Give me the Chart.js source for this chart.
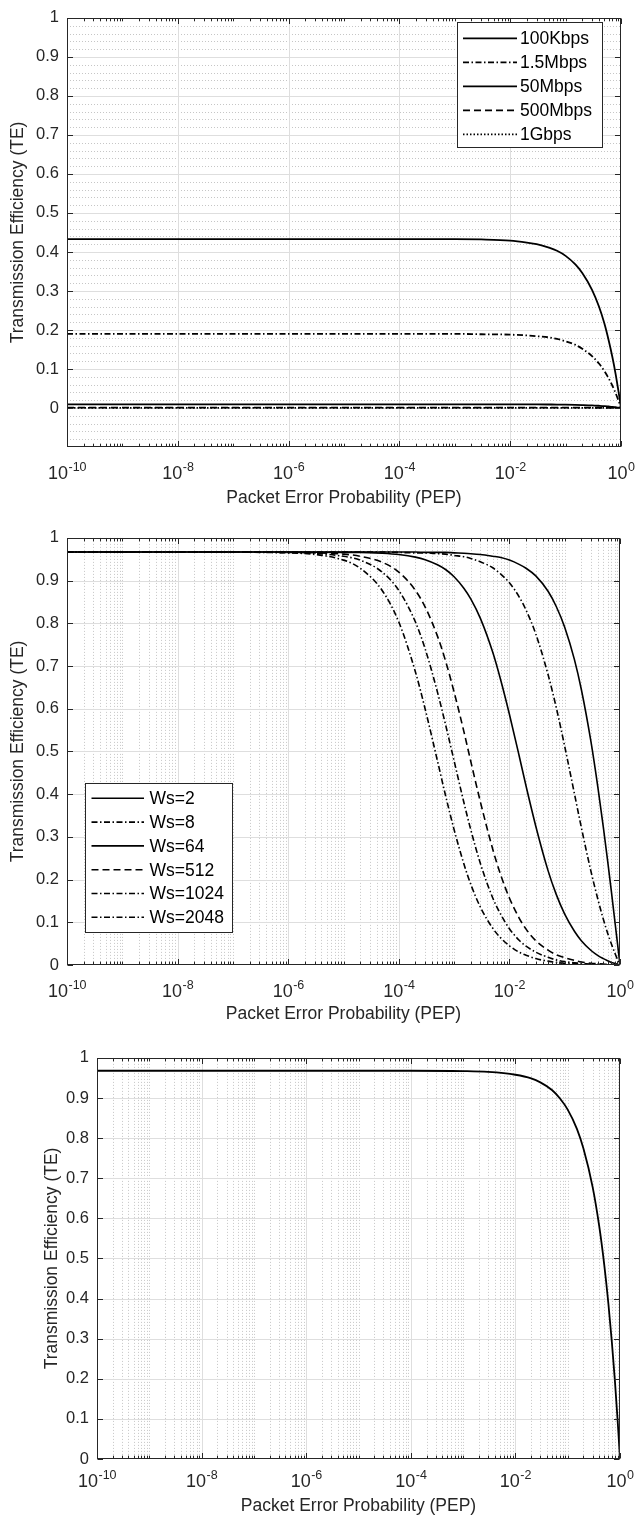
<!DOCTYPE html>
<html>
<head>
<meta charset="utf-8">
<script src="https://cdn.jsdelivr.net/npm/chart.js@4.4.1/dist/chart.umd.min.js"></script>
<style>
html,body{margin:0;padding:0;background:#fff;}
body{width:635px;height:1517px;position:relative;overflow:hidden;}
canvas{position:absolute;left:0;display:block;}
</style>
</head>
<body>
<canvas id="c1" width="635" height="520" style="top:0px"></canvas>
<canvas id="c2" width="635" height="520" style="top:520px"></canvas>
<canvas id="c3" width="635" height="477" style="top:1040px"></canvas>
<script>
// ---------------- DATA ----------------
const xTickValues = [1e-10, 1e-8, 1e-6, 1e-4, 1e-2, 1];
const xTickExponents = ['-10', '-8', '-6', '-4', '-2', '0'];
const xTitle = 'Packet Error Probability (PEP)';
const yTitle = 'Transmission Efficiency (TE)';

// Figure 1: link rates
const pep1 = [1e-10,1e-8,1e-6,1e-4,1e-3,3e-3,0.01,0.02,0.03,0.05,0.07,0.1,0.15,0.2,0.3,0.4,0.5,0.6,0.7,0.8,0.9,0.95,1];
const rateLabels = ['100Kbps','1.5Mbps','50Mbps','500Mbps','1Gbps'];
const te100Kbps = [0.433,0.433,0.433,0.433,0.433,0.432,0.429,0.424,0.420,0.411,0.403,0.390,0.368,0.346,0.303,0.260,0.217,0.173,0.130,0.087,0.043,0.022,0];
const te1_5Mbps = [0.190,0.190,0.190,0.190,0.190,0.189,0.188,0.186,0.184,0.181,0.177,0.171,0.162,0.152,0.133,0.114,0.095,0.076,0.057,0.038,0.019,0.010,0];
const te50Mbps = [0.0095,0.0095,0.0095,0.0095,0.0095,0.0095,0.0094,0.0093,0.0092,0.0090,0.0088,0.0086,0.0081,0.0076,0.0067,0.0057,0.0048,0.0038,0.0029,0.0019,0.0010,0.0005,0];
const te500Mbps = [0.001,0.001,0.001,0.001,0.001,0.001,0.001,0.001,0.001,0.001,0.0009,0.0009,0.00085,0.0008,0.0007,0.0006,0.0005,0.0004,0.0003,0.0002,0.0001,0.00005,0];
const te1Gbps = [0.0005,0.0005,0.0005,0.0005,0.0005,0.0005,0.0005,0.0005,0.0005,0.0005,0.00047,0.00045,0.00043,0.0004,0.00035,0.0003,0.00025,0.0002,0.00015,0.0001,0.00005,0.00003,0];

// Figure 2: window sizes
const pep2 = [1e-10,1e-8,1e-6,1e-5,2e-5,5e-5,1e-4,2e-4,3e-4,5e-4,7e-4,1e-3,1.5e-3,2e-3,3e-3,5e-3,7e-3,0.01,0.015,0.02,0.03,0.05,0.07,0.1,0.15,0.2,0.3,0.4,0.5,0.6,0.7,0.8,0.9,0.95,1];
const wsLabels = ['Ws=2','Ws=8','Ws=64','Ws=512','Ws=1024','Ws=2048'];
const teWs2 = [0.967,0.967,0.967,0.967,0.967,0.967,0.967,0.967,0.966,0.966,0.966,0.965,0.964,0.963,0.961,0.957,0.954,0.948,0.938,0.929,0.911,0.875,0.840,0.791,0.715,0.645,0.521,0.414,0.322,0.242,0.171,0.107,0.051,0.025,0];
const teWs8 = [0.967,0.967,0.967,0.967,0.967,0.967,0.966,0.965,0.965,0.963,0.962,0.959,0.956,0.952,0.944,0.930,0.915,0.895,0.862,0.831,0.775,0.680,0.604,0.512,0.401,0.322,0.218,0.153,0.107,0.074,0.049,0.029,0.013,0.006,0];
const teWs64 = [0.967,0.967,0.967,0.966,0.966,0.964,0.961,0.955,0.949,0.937,0.926,0.909,0.882,0.857,0.811,0.732,0.666,0.587,0.490,0.419,0.325,0.221,0.166,0.119,0.079,0.057,0.034,0.022,0.015,0.010,0.006,0.004,0.002,0.001,0];
const teWs512 = [0.967,0.967,0.966,0.962,0.957,0.943,0.920,0.877,0.838,0.770,0.712,0.639,0.547,0.477,0.381,0.271,0.210,0.157,0.110,0.084,0.057,0.035,0.024,0.017,0.011,0.007,0.004,0.003,0.002,0.001,0.001,0,0,0,0];
const teWs1024 = [0.967,0.967,0.966,0.957,0.948,0.920,0.877,0.803,0.740,0.639,0.563,0.478,0.381,0.317,0.237,0.157,0.118,0.085,0.058,0.044,0.030,0.018,0.012,0.008,0.005,0.004,0.002,0.001,0.001,0.001,0,0,0,0,0];
const teWs2048 = [0.967,0.967,0.965,0.948,0.929,0.877,0.803,0.686,0.599,0.478,0.397,0.317,0.237,0.189,0.135,0.086,0.063,0.045,0.030,0.023,0.015,0.009,0.006,0.004,0.003,0.002,0.001,0.001,0,0,0,0,0,0,0];

// Figure 3: single curve
const pep3 = [1e-10,1e-8,1e-6,1e-4,1e-3,3e-3,0.01,0.02,0.03,0.05,0.07,0.1,0.15,0.2,0.3,0.4,0.5,0.6,0.7,0.8,0.9,0.95,1];
const te3 = [0.968,0.968,0.968,0.968,0.967,0.965,0.958,0.949,0.939,0.920,0.900,0.871,0.823,0.774,0.678,0.581,0.484,0.387,0.290,0.194,0.097,0.048,0];

// ---------------- STYLE ----------------
const FF = '"Liberation Sans", Arial, Helvetica, sans-serif';
const AX = '#262626';
const SOLID = [], DASH = [7, 4], DASHDOT = [6, 2.5, 1.5, 2.5], DOT = [1.5, 2];

function pts(xs, ys) { return xs.map((v, i) => ({x: v, y: ys[i]})); }

function line(ctx, x0, y0, x1, y1) { ctx.beginPath(); ctx.moveTo(x0, y0); ctx.lineTo(x1, y1); ctx.stroke(); }

const matlabAxes = {
  id: 'matlabAxes',
  beforeDatasetsDraw(chart, args, o) {
    const {ctx, chartArea: a, scales: {x, y}} = chart;
    ctx.save();
    ctx.lineWidth = 1;
    ctx.strokeStyle = '#c6c6c6';
    ctx.setLineDash([1, 2]);
    if (o.minorX) {
      for (let k = -10; k < 0; k++) {
        for (let m = 1; m <= 9; m++) {
          if (m === 1 && k % 2 === 0) continue;
          const px = Math.round(x.getPixelForValue(m * Math.pow(10, k))) + 0.5;
          line(ctx, px, a.top, px, a.bottom);
        }
      }
    }
    if (o.minorY) {
      for (let i = Math.round(y.min * 50); i <= 50; i++) {
        if (i % 5 === 0) continue;
        const py = Math.round(y.getPixelForValue(i / 50)) + 0.5;
        line(ctx, a.left, py, a.right, py);
      }
    }
    ctx.setLineDash([]);
    ctx.strokeStyle = '#dedede';
    xTickValues.forEach(v => {
      if (v <= 1e-10 || v >= 1) return;
      const px = Math.round(x.getPixelForValue(v)) + 0.5;
      line(ctx, px, a.top, px, a.bottom);
    });
    for (let i = Math.round(y.min * 10) + 1; i < 10; i++) {
      const py = Math.round(y.getPixelForValue(i / 10)) + 0.5;
      line(ctx, a.left, py, a.right, py);
    }
    ctx.restore();
  },
  afterDatasetsDraw(chart, args, o) {
    const {ctx, chartArea: a, scales: {x, y}} = chart;
    ctx.save();
    ctx.strokeStyle = AX;
    ctx.lineWidth = 1;
    ctx.setLineDash([]);
    const L = Math.round(a.left) + 0.5, R = Math.round(a.right) - 0.5;
    const T = Math.round(a.top) + 0.5, B = Math.round(a.bottom) - 0.5;
    // x ticks (inward, top and bottom)
    for (let k = -10; k <= 0; k++) {
      for (let m = 1; m <= 9; m++) {
        if (k === 0 && m > 1) break;
        const v = m * Math.pow(10, k);
        const major = (m === 1 && k % 2 === 0);
        const len = major ? 5.5 : 2.8;
        const px = Math.round(x.getPixelForValue(v)) + 0.5;
        line(ctx, px, B, px, B - len);
        line(ctx, px, T, px, T + len);
      }
    }
    // y ticks
    for (let i = 0; i <= 10; i++) {
      const py = Math.round(y.getPixelForValue(i / 10)) + 0.5;
      line(ctx, L, py, L + 5.5, py);
      line(ctx, R, py, R - 5.5, py);
    }
    // box
    ctx.strokeRect(L, T, R - L, B - T);
    // x tick labels 10^n
    ctx.fillStyle = AX;
    ctx.textAlign = 'left';
    ctx.textBaseline = 'alphabetic';
    xTickValues.forEach((v, i) => {
      const px = x.getPixelForValue(v);
      const exp = xTickExponents[i];
      ctx.font = '18px ' + FF;
      const wb = ctx.measureText('10').width;
      ctx.font = '12.5px ' + FF;
      const ws = ctx.measureText(exp).width;
      const x0 = px - (wb + ws) / 2;
      ctx.font = '18px ' + FF;
      ctx.fillText('10', x0, o.labelBase);
      ctx.font = '12.5px ' + FF;
      ctx.fillText(exp, x0 + wb + 0.5, o.labelBase - 8.5);
    });
    // legend
    if (o.legend) {
      const lg = o.legend;
      ctx.fillStyle = '#ffffff';
      ctx.fillRect(lg.x, lg.y, lg.w, lg.h);
      ctx.strokeStyle = AX;
      ctx.lineWidth = 1;
      ctx.strokeRect(Math.round(lg.x) + 0.5, Math.round(lg.y) + 0.5, Math.round(lg.w), Math.round(lg.h));
      chart.data.datasets.forEach((ds, i) => {
        const yy = lg.row0 + lg.rowH * i;
        ctx.strokeStyle = '#000';
        ctx.lineWidth = ds.borderWidth;
        ctx.setLineDash(ds.borderDash || []);
        line(ctx, lg.s0, yy, lg.s1, yy);
        ctx.setLineDash([]);
        ctx.fillStyle = '#000';
        ctx.font = '17.5px ' + FF;
        ctx.textBaseline = 'middle';
        ctx.fillText(ds.label, lg.tx, yy + 1);
      });
    }
    ctx.restore();
  }
};

function makeChart(id, cfg) {
  const H = cfg.H, A = cfg.area;
  const lh = 17.5 * 1.2;
  const datasets = cfg.series.map(s => ({
    label: s.label,
    data: pts(cfg.pep, s.data),
    borderColor: '#000',
    borderWidth: cfg.lw,
    borderDash: s.dash,
    pointRadius: 0,
    fill: false,
    cubicInterpolationMode: 'monotone'
  }));
  return new Chart(document.getElementById(id), {
    type: 'line',
    data: {datasets},
    plugins: [matlabAxes],
    options: {
      responsive: false,
      animation: false,
      devicePixelRatio: 1,
      layout: {padding: {left: 0, right: 635 - A.r, top: A.t, bottom: 0}},
      plugins: {
        legend: {display: false},
        tooltip: {enabled: false},
        matlabAxes: {minorX: cfg.minorX, minorY: cfg.minorY, labelBase: cfg.labelBase, legend: cfg.legend}
      },
      scales: {
        x: {
          type: 'logarithmic', position: 'bottom', min: 1e-10, max: 1,
          grid: {display: false, drawTicks: false},
          border: {display: false},
          ticks: {display: false},
          title: {display: true, text: xTitle, color: AX, font: {family: FF, size: 17.5},
                  padding: {top: 0, bottom: H - cfg.xTitleY - lh / 2}},
          afterFit: s => { s.height = H - A.b; }
        },
        y: {
          type: 'linear', position: 'left', min: cfg.yMin, max: 1,
          grid: {display: false, drawTicks: false},
          border: {display: false},
          ticks: {
            stepSize: 0.1, autoSkip: false, padding: 8, color: AX,
            font: {family: FF, size: 16.5},
            callback: v => (v < -1e-9 ? '' : String(Math.round(v * 10) / 10))
          },
          title: {display: true, text: yTitle, color: AX, font: {family: FF, size: 17.5},
                  padding: {top: cfg.yTitleX - lh / 2, bottom: 0}},
          afterFit: s => { s.width = A.l; }
        }
      }
    }
  });
}

makeChart('c1', {
  H: 520, area: {l: 67, r: 621, t: 13, b: 447}, yMin: -0.1, lw: 1.8,
  pep: pep1, minorX: false, minorY: true, labelBase: 479, xTitleY: 498, yTitleX: 18,
  series: [
    {label: rateLabels[0], data: te100Kbps, dash: SOLID},
    {label: rateLabels[1], data: te1_5Mbps, dash: DASHDOT},
    {label: rateLabels[2], data: te50Mbps, dash: SOLID},
    {label: rateLabels[3], data: te500Mbps, dash: DASH},
    {label: rateLabels[4], data: te1Gbps, dash: DOT}
  ],
  legend: {x: 457, y: 22, w: 145, h: 125, row0: 38.3, rowH: 24, s0: 463, s1: 517, tx: 520}
});

makeChart('c2', {
  H: 520, area: {l: 67, r: 620, t: 13, b: 445}, yMin: 0, lw: 1.6,
  pep: pep2, minorX: true, minorY: false, labelBase: 477, xTitleY: 494, yTitleX: 18.5,
  series: [
    {label: wsLabels[0], data: teWs2, dash: SOLID},
    {label: wsLabels[1], data: teWs8, dash: DASHDOT},
    {label: wsLabels[2], data: teWs64, dash: SOLID},
    {label: wsLabels[3], data: teWs512, dash: DASH},
    {label: wsLabels[4], data: teWs1024, dash: DASHDOT},
    {label: wsLabels[5], data: teWs2048, dash: DASHDOT}
  ],
  legend: {x: 85, y: 263, w: 147, h: 149, row0: 278.3, rowH: 23.8, s0: 91.5, s1: 144, tx: 149.5}
});

makeChart('c3', {
  H: 477, area: {l: 97, r: 620, t: 11, b: 419}, yMin: 0, lw: 1.8,
  pep: pep3, minorX: true, minorY: false, labelBase: 447, xTitleY: 466, yTitleX: 52,
  series: [
    {label: 'TE', data: te3, dash: SOLID}
  ],
  legend: null
});
</script>
</body>
</html>
